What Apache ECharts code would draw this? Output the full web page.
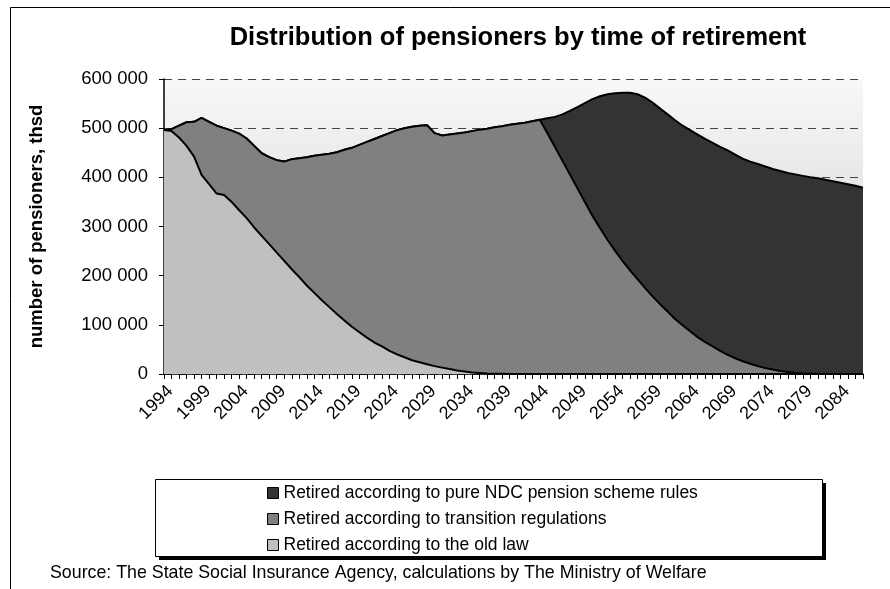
<!DOCTYPE html>
<html>
<head>
<meta charset="utf-8">
<script src="https://cdn.jsdelivr.net/npm/echarts@6/dist/echarts.min.js"></script>
<style>
html,body{margin:0;padding:0;background:#fff;}
#chart{width:890px;height:589px;}
</style>
</head>
<body>
<div id="chart"></div>
<script>
// Years on the category axis
var years = [];
for (var y = 1994; y <= 2087; y++) years.push(String(y));

// Retired according to the old law
var oldLaw = [
496000,494000,481000,464000,442000,405000,386000,367000,364000,350000,
333000,317000,298000,281000,264000,247000,230000,213000,197000,180000,
165000,150000,136000,122000,109000,96000,85000,74000,64000,56000,
47000,40000,34000,28000,24000,20000,16000,13000,10000,7000,
5000,3000,2000,1000,500,300,100,0,0,0,
0,0,0,0,0,0,0,0,0,0,
0,0,0,0,0,0,0,0,0,0,
0,0,0,0,0,0,0,0,0,0,
0,0,0,0,0,0,0,0,0,0,
0,0,0,0
];

// Retired according to transition regulations
var transition = [
0,4000,24000,48000,71000,116000,127000,138000,136000,145000,
156000,162000,166000,168000,177000,188000,202000,224000,242000,261000,
279000,296000,312000,329000,347000,364000,381000,398000,414000,428000,
443000,456000,466000,475000,481000,486000,474000,472000,477000,482000,
486000,491000,495000,498000,501500,503700,506900,509000,511000,514000,
517000,490000,462000,434000,406000,378000,350000,322000,297000,273000,
251000,230000,211000,193000,175000,158000,142000,127000,112000,99000,
87000,75000,65000,56000,47000,39000,32000,26000,21000,16000,
12000,9000,6000,4000,2000,1000,500,0,0,0,
0,0,0,0
];

// Retired according to pure NDC pension scheme rules
var ndc = [
0,0,0,0,0,0,0,0,0,0,
0,0,0,0,0,0,0,0,0,0,
0,0,0,0,0,0,0,0,0,0,
0,0,0,0,0,0,0,0,0,0,
0,0,0,0,0,0,0,0,0,0,
0,30000,61000,94000,129000,165000,201000,237000,268000,296000,
320000,342000,361000,376000,387000,394000,398000,401000,404000,406000,
409000,412000,413000,414000,415000,416000,414000,412000,411000,411000,
410000,408000,407000,405000,404000,402000,399500,398000,395000,392000,
389000,386000,383000,379000
];

var seriesNames = [
  'Retired according to the old law',
  'Retired according to transition regulations',
  'Retired according to pure NDC pension scheme rules'
];
var titleText = 'Distribution of pensioners by time of retirement';
var yAxisTitle = 'number of pensioners, thsd';
var sourceText = 'Source: The State Social Insurance Agency, calculations by The Ministry of Welfare';

var FONT = '"Liberation Sans", Arial, sans-serif';
var chart = echarts.init(document.getElementById('chart'), null, {renderer:'canvas'});

function fmt(v){ return String(v).replace(/\B(?=(\d{3})+(?!\d))/g, ' '); }

function areaSeries(name, data, color, z){
  return {
    name: name, type: 'line', stack: 'total', data: data,
    showSymbol: false, symbol: 'none', z: z,
    lineStyle: {color: '#000', width: 2},
    itemStyle: {color: color, borderColor: '#000', borderWidth: 1},
    areaStyle: {color: color, opacity: 1},
    emphasis: {disabled: true}
  };
}

chart.setOption({
  animation: false,
  backgroundColor: '#fff',
  title: {
    text: titleText, left: 513, top: 20, textAlign: 'center',
    textStyle: {fontFamily: FONT, fontSize: 25.5, fontWeight: 'bold', color: '#000'}
  },
  grid: {
    left: 164, right: 27, top: 79, bottom: 215, show: true, borderWidth: 0,
    backgroundColor: {type:'linear', x:0, y:0, x2:0, y2:1,
      colorStops:[{offset:0,color:'#f8f8f8'},{offset:1,color:'#c8c8c8'}]}
  },
  legend: {
    orient: 'vertical', left: 262, top: 479, padding: 5,
    data: [seriesNames[2], seriesNames[1], seriesNames[0]],
    icon: 'rect', itemWidth: 11, itemHeight: 11, itemGap: 8,
    textStyle: {fontFamily: FONT, fontSize: 17.5, color: '#000', lineHeight: 18},
    itemStyle: {borderColor: '#000', borderWidth: 1},
    selectedMode: false
  },
  xAxis: {
    type: 'category', data: years, boundaryGap: false,
    axisLine: {lineStyle: {color: '#000', width: 1.5}},
    axisTick: {show: true, interval: 0, length: 5, lineStyle: {color: '#000'}},
    axisLabel: {interval: 4, rotate: 45, margin: 8, verticalAlign: 'top', color: '#000', fontFamily: FONT, fontSize: 18},
    splitLine: {show: false}
  },
  yAxis: {
    type: 'value', min: 0, max: 600000, interval: 100000,
    name: yAxisTitle, nameLocation: 'middle', nameGap: 118, nameRotate: 90,
    nameTextStyle: {fontFamily: FONT, fontSize: 18.5, fontWeight: 'bold', color: '#000'},
    axisLine: {show: true, lineStyle: {color: '#000', width: 1.5}},
    axisTick: {show: true, length: 5, lineStyle: {color: '#000'}},
    axisLabel: {formatter: fmt, margin: 16, color: '#000', fontFamily: FONT, fontSize: 18.5},
    splitLine: {show: true, lineStyle: {color: '#444', type: [8, 6], width: 1}}
  },
  graphic: [
    {type: 'rect', shape: {x: 10.5, y: 7.5, width: 1000, height: 1000},
     style: {fill: 'none', stroke: '#000', lineWidth: 1}, silent: true, z: 0},
    {type: 'rect', shape: {x: 159, y: 483, width: 667, height: 77},
     style: {fill: '#000'}, silent: true, z: 1},
    {type: 'rect', shape: {x: 155.5, y: 479.5, width: 667, height: 77},
     style: {fill: '#fff', stroke: '#000', lineWidth: 1}, silent: true, z: 2},
    {type: 'text', x: 50, y: 573,
     style: {text: sourceText, font: '17.8px ' + FONT, fill: '#000', textVerticalAlign: 'middle'},
     silent: true, z: 3}
  ],
  series: [
    areaSeries(seriesNames[0], oldLaw, '#c0c0c0', 4),
    areaSeries(seriesNames[1], transition, '#808080', 3),
    areaSeries(seriesNames[2], ndc, '#333333', 2)
  ]
});
</script>
</body>
</html>
